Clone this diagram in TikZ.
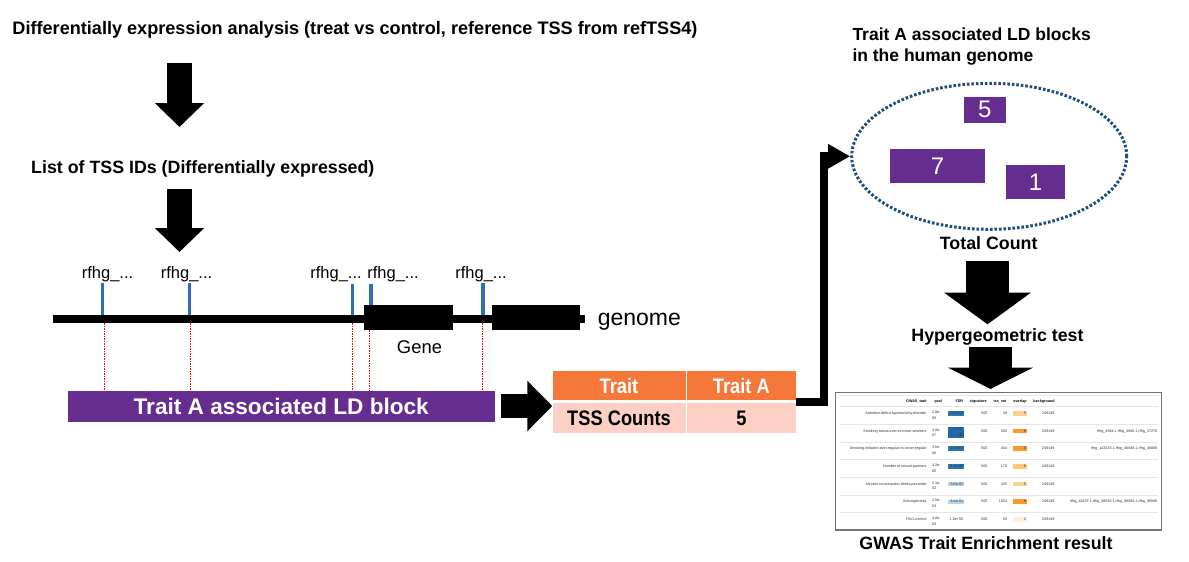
\documentclass[tikz,border=0pt]{standalone}
\usepackage{fontspec}
\setmainfont{Liberation Sans}
\newfontfamily\narrowsans[FakeStretch=0.87]{Liberation Sans}
\usetikzlibrary{arrows.meta,shapes.geometric,calc}
\definecolor{ldpurple}{HTML}{662D91}
\definecolor{trorange}{HTML}{F5773A}
\definecolor{trpink}{HTML}{FCD0C4}
\definecolor{tssblue}{HTML}{2F6EBA}
\definecolor{ellblue}{HTML}{1F4E79}
\definecolor{fdrdark}{HTML}{2C77B1}
\definecolor{fdrdeep}{HTML}{2369A6}
\definecolor{fdrlight}{HTML}{B6D4EA}
\definecolor{ovstrong}{HTML}{FB9A2C}
\definecolor{ovmid}{HTML}{FDC877}
\definecolor{ovlight}{HTML}{FDD28F}
\definecolor{ovpale}{HTML}{FEF0DD}
\newcommand\setfs[2]{\fontsize{#1}{#2}\selectfont}
\tikzset{
  heading/.style={inner sep=0pt, font=\bfseries\setfs{17.8}{21}},
  blockarrow/.style n args={3}{draw=black, line width=#1, -{Triangle[length=#2,width=#3]}},
  elbowline/.style={draw=black, line width=8pt, line join=miter, -{Triangle[length=22pt,width=23pt]}},
  tssmark/.style={draw=tssblue, line width=3.4pt},
  tsslabel/.style={inner sep=0pt, anchor=base, font=\setfs{16.5}{19}},
  reddash/.style={draw=red, line width=0.7pt, dash pattern=on 1.6pt off 0.9pt},
  genebox/.style={fill=black, inner sep=0pt},
  numbox/.style={fill=ldpurple, text=white, inner sep=0pt, font=\setfs{24}{26}},
  cellhead/.style={fill=trorange, text=white, inner sep=0pt, font=\narrowsans\bfseries\setfs{21}{24}},
  cellbody/.style={fill=trpink, text=black, inner sep=0pt, font=\narrowsans\bfseries\setfs{21}{24}},
  tinyt/.style={inner sep=0pt, text=black!80, font=\setfs{3.7}{5.7}},
  tinyh/.style={inner sep=0pt, text=black, font=\bfseries\setfs{3.7}{5.7}},
  gridline/.style={draw=black!10, line width=0.5pt},
}
\newcommand\fdrfill[4]{\fill[#2] (947.7,#3) rectangle (964,#4);}
\newcommand\gwasrow[9]{%
  \pgfmathsetmacro\ry{395.63+17.67*#1}%
  \draw[gridline] (840,\ry-6.6) -- (1157.5,\ry-6.6);%
  \node[tinyt, anchor=base east] (gt#1) at (926.7,\ry+1.3) {#2};%
  \node[tinyt, anchor=north west, align=left] (gp#1) at (931.8,\ry-2.5) {#3\\#4};%
  \node[tinyt, anchor=base] (gs#1) at (984.3,\ry+1.3) {500};%
  \node[tinyt, anchor=base east] (gx#1) at (1007.3,\ry+1.3) {#5};%
  \fill[#7] (1013.3,\ry-2.4) rectangle (1027.3,\ry+2.4);%
  \node[tinyt, anchor=base east] (go#1) at (1026.2,\ry+1.3) {#6};%
  \node[tinyt, anchor=base] (gb#1) at (1048.3,\ry+1.3) {249149};%
  \node[tinyt, anchor=base east] (gl#1) at (1157.5,\ry+1.3) {#8};%
  \node[tinyt, anchor=base east] (gf#1) at (963.4,\ry+1.3) {#9};%
}
\begin{document}
\begin{tikzpicture}[x=1pt,y=-1pt]
\useasboundingbox (0,0) rectangle (1189,562);
\fill[white] (0,0) rectangle (1189,562);

% ---------- left column: titles and arrows ----------
\node[heading, anchor=base west, font=\bfseries\setfs{18.1}{21}] (title) at (12.3,34.8)
  {Differentially expression analysis (treat vs control, reference TSS from refTSS4)};
\node[heading, anchor=base west] (tsslist) at (31,173.3) {List of TSS IDs (Differentially expressed)};
\coordinate (a1s) at (179.5,63);
\coordinate (a1e) at (179.5,127);
\coordinate (a2s) at (179.5,189);
\coordinate (a2e) at (179.5,252);
\draw[blockarrow={25pt}{24pt}{48pt}] (a1s) -- (a1e);
\draw[blockarrow={25pt}{24pt}{48pt}] (a2s) -- (a2e);

% ---------- genome track ----------
\node[tsslabel] (l1) at (107.5,278.3) {rfhg\_...};
\node[tsslabel] (l2) at (186.5,278.3) {rfhg\_...};
\node[tsslabel] (l3) at (336,278.3) {rfhg\_...};
\node[tsslabel] (l4) at (393,278.3) {rfhg\_...};
\node[tsslabel] (l5) at (481,278.3) {rfhg\_...};

\coordinate (t1a) at (102.3,283); \coordinate (t1b) at (102.3,318);
\coordinate (t2a) at (189.3,283); \coordinate (t2b) at (189.3,318);
\coordinate (t3a) at (352.3,284); \coordinate (t3b) at (352.3,318);
\coordinate (t4a) at (370.8,284); \coordinate (t4b) at (370.8,306);
\coordinate (t5a) at (482.8,283); \coordinate (t5b) at (482.8,318);
\draw[tssmark] (t1a) -- (t1b);
\draw[tssmark] (t2a) -- (t2b);
\draw[tssmark] (t3a) -- (t3b);
\draw[tssmark] (t4a) -- (t4b);
\draw[tssmark] (t5a) -- (t5b);

\coordinate (gl) at (52.6,319);
\coordinate (gr) at (585,319);
\draw[line width=8pt] (gl) -- (gr);
\node[genebox, minimum width=88.5pt, minimum height=25pt] (g1) at (408.3,317.5) {};
\node[genebox, minimum width=87.6pt, minimum height=25pt] (g2) at (536.2,317.5) {};
\node[inner sep=0pt, anchor=base west, font=\setfs{23}{26}] (genome) at (597.6,325) {genome};
\node[inner sep=0pt, anchor=base, font=\setfs{18.4}{21}] (gene) at (419.5,353.3) {Gene};

% ---------- LD block ----------
\node[fill=ldpurple, text=white, inner sep=0pt, minimum width=426.5pt, minimum height=30.4pt,
      font=\bfseries\setfs{22.6}{25}] (ld) at (281.25,406.5) {Trait A associated LD block};
\coordinate (r1) at (104,323);
\coordinate (r2) at (190.7,323);
\coordinate (r3) at (352.3,323);
\coordinate (r4) at (369.5,330);
\coordinate (r5) at (482.8,323);
\draw[reddash] (r1) -- (r1 |- ld.north);
\draw[reddash] (r2) -- (r2 |- ld.north);
\draw[reddash] (r3) -- (r3 |- ld.north);
\draw[reddash] (r4) -- (r4 |- ld.north);
\draw[reddash] (r5) -- (r5 |- ld.north);

% ---------- count table ----------
\node[cellhead, minimum width=133pt, minimum height=29pt] (trh) at (619,385.5) {Trait};
\node[cellhead, minimum width=108.8pt, minimum height=29pt] (tah) at (741.4,385.5) {Trait A};
\node[cellbody, minimum width=133pt, minimum height=29.4pt] (tcr) at (619,418) {TSS Counts};
\node[cellbody, minimum width=108.8pt, minimum height=29.4pt] (tvr) at (741.4,418) {5};
\coordinate (ra) at (501,406);
\draw[blockarrow={24pt}{25pt}{49pt}] (ra) -- (trh.south west |- ra);

% ---------- LD blocks in genome ----------
\node[heading, anchor=north west, align=left, font=\bfseries\setfs{17.5}{20.7}] (ldhead) at (852.3,27.8)
  {Trait A associated LD blocks\\in the human genome};
\node[ellipse, draw=ellblue, line width=3pt, dash pattern=on 2.6pt off 1.9pt,
      minimum width=275pt, minimum height=146pt, inner sep=0pt] (ell) at (989.2,156.3) {};
\node[numbox, minimum width=41.7pt, minimum height=25.7pt] (b5) at (984.85,109.85) {5};
\node[numbox, minimum width=95pt, minimum height=33.7pt] (b7) at (937.5,165.85) {7};
\node[numbox, minimum width=59pt, minimum height=33.7pt] (b1) at (1035.5,181.85) {1};
\coordinate (tout) at ($(tah.south east)!0.5!(tvr.north east)$);
\draw[elbowline] (tout) -- ++(28.2,0) |- (ell.west);

\node[heading, anchor=base] (total) at (988.7,249.5) {Total Count};
\coordinate (a3s) at (987.5,261);
\coordinate (a3e) at (987.5,324.3);
\draw[blockarrow={43.5pt}{31.6pt}{85pt}] (a3s) -- (a3e);
\node[heading, anchor=base] (hyper) at (997.5,341.4) {Hypergeometric test};
\coordinate (a4s) at (990.5,347.3);
\coordinate (a4e) at (990.5,389);
\draw[blockarrow={43.3pt}{21.3pt}{84pt}] (a4s) -- (a4e);

% ---------- result screenshot ----------
\node[draw=black!55, line width=1.3pt, minimum width=326pt, minimum height=137.3pt, inner sep=0pt] (shot) at (998.7,461.35) {};
\draw[gridline] (840,395.7) -- (1157.5,395.7);
\node[tinyh, anchor=base east] (hgt) at (926.7,402.3) {GWAS\_trait};
\node[tinyh, anchor=base] (hpv) at (938.3,402.3) {pval};
\node[tinyh, anchor=base east] (hfd) at (963.3,402.3) {FDR};
\node[tinyh, anchor=base] (hsg) at (978.3,402.3) {signature};
\node[tinyh, anchor=base] (hts) at (1000,402.3) {tss\_set};
\node[tinyh, anchor=base] (hov) at (1020,402.3) {overlap};
\node[tinyh, anchor=base] (hbg) at (1044,402.3) {background};

\fdrfill{1}{fdrdark}{411.0}{415.6}
\fdrfill{2}{fdrdeep}{426.7}{438.3}
\fdrfill{3}{fdrdark}{446.4}{451.0}
\fdrfill{4}{fdrdark}{464.4}{469.0}
\fdrfill{5}{fdrlight}{481.7}{486.3}
\fdrfill{6}{fdrlight}{499.7}{504.3}

\gwasrow{1}{Attention.deficit.hyperactivity.disorder}{2.0e-}{09}{38}{5}{ovlight}{}{2.2e-03}
\gwasrow{2}{Smoking.status.ever.vs.never.smokers}{3.0e-}{07}{506}{9}{ovstrong}{rfhg\_4864.1,rfhg\_4866.1,rfhg\_27276}{}
\node[tinyt, anchor=north east, align=right] (gf2b) at (963.4,427.6) {2.2e-\\06};
\gwasrow{3}{Smoking.initiation.ever.regular.vs.never.regular}{3.6e-}{06}{404}{8}{ovstrong}{rfhg\_143243.1,rfhg\_48848.1,rfhg\_48888}{1.4e-03}
\gwasrow{4}{Number.of.sexual.partners}{3.2e-}{05}{170}{6}{ovmid}{}{1.3e-02}
\gwasrow{5}{Alcohol.consumption.drinks.per.week}{2.1e-}{03}{425}{5}{ovlight}{}{6.6e-01}
\gwasrow{6}{Schizophrenia}{2.5e-}{03}{1554}{9}{ovstrong}{rfhg\_40476.1,rfhg\_98582.1,rfhg\_98584.1,rfhg\_98588}{6.6e-01}
\gwasrow{7}{HIV.Lcontrol}{4.0e-}{03}{58}{2}{ovpale}{}{1.0e+00}

\node[heading, anchor=base] (gwas) at (986,549.6) {GWAS Trait Enrichment result};
\end{tikzpicture}
\end{document}
